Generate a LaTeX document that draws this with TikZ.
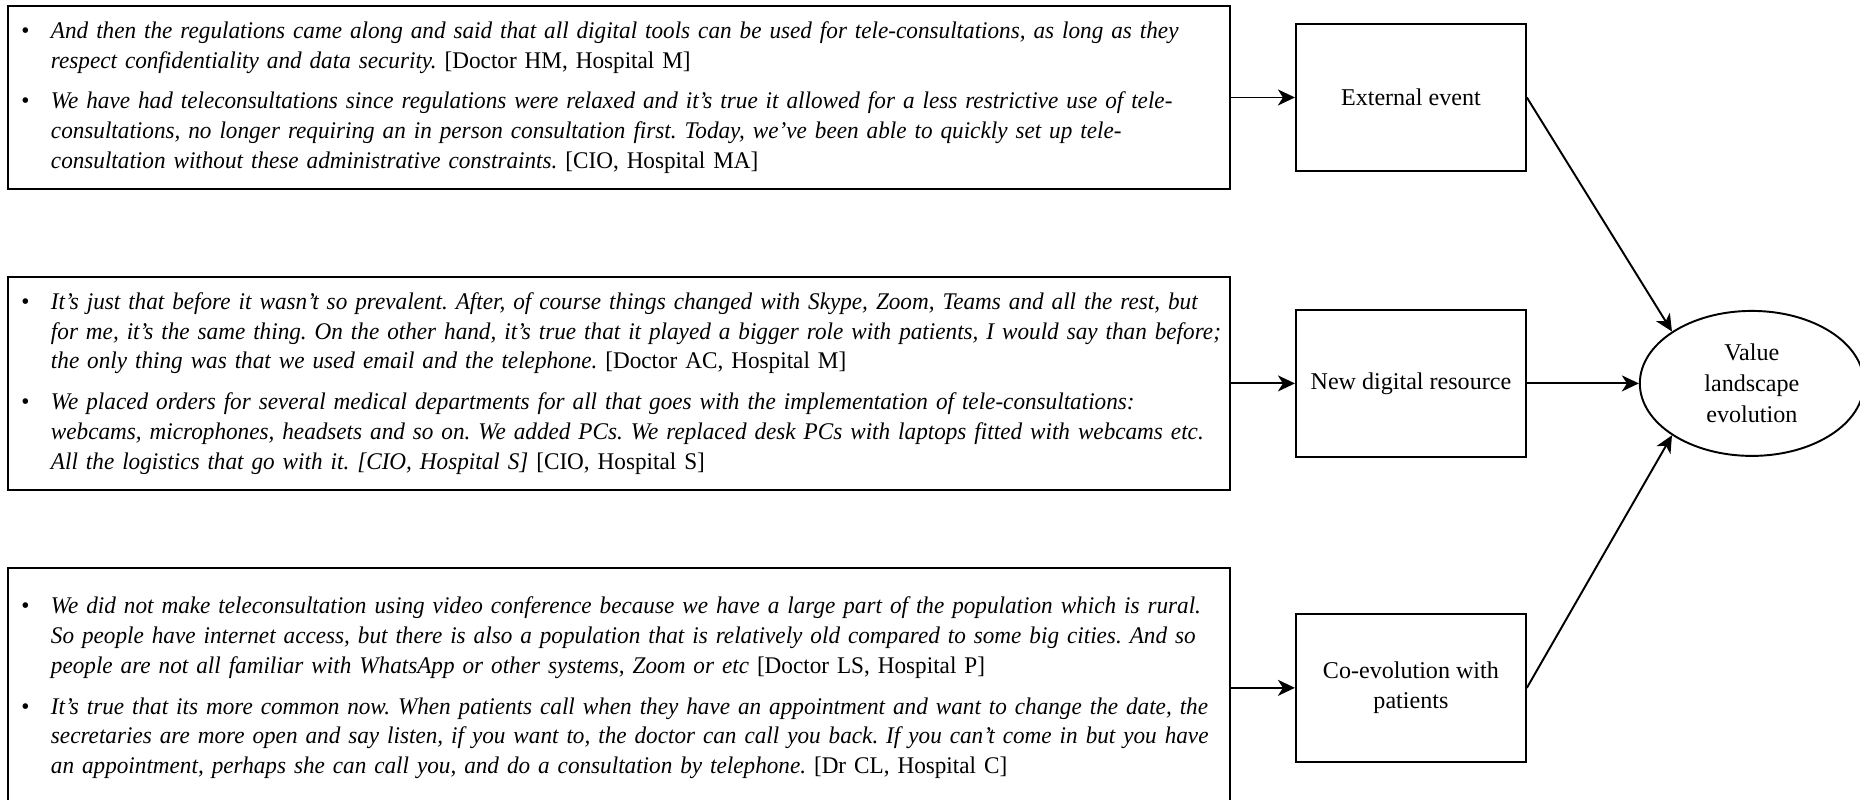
\documentclass[tikz,border=0pt]{standalone}
\usepackage{fontspec}
\setmainfont{Liberation Serif}
\newfontfamily\quotefont[FakeStretch=0.97,WordSpace=0.85]{Liberation Serif}
\usetikzlibrary{arrows.meta,positioning,shapes.geometric}
\frenchspacing

\newcommand{\qbul}{\leavevmode\llap{\textbullet\hspace{0.43cm}}}

\begin{document}
\begin{tikzpicture}[node distance=1.28cm,>={Stealth[length=0.34cm,width=0.32cm,inset=0.1cm]},line width=1.1pt,
  quotebox/.style={draw,text width=24.4cm,inner xsep=0.02cm,inner ysep=0pt,align=left,
    font=\quotefont\fontsize{13.6}{16.9}\selectfont,
    execute at begin node={\leftskip=0.84cm\rightskip=-1cm plus 1fil\relax}},
  factor/.style={draw,minimum width=4.6cm,minimum height=2.95cm,align=center,font=\fontsize{13.7}{16.8}\selectfont}]
\useasboundingbox (0,0) rectangle (37.2,-15.98);

% quotes
\node[quotebox,minimum height=3.66cm,anchor=north west] (qext) at (0.14,-0.1)
{\qbul\textit{And then the regulations came along and said that all digital tools can be used for tele-consultations, as long as they}\\
\textit{respect confidentiality and data security.} [Doctor HM, Hospital M]\\[0.22cm]
\qbul\textit{We have had teleconsultations since regulations were relaxed and it’s true it allowed for a less restrictive use of tele-}\\
\textit{consultations, no longer requiring an in person consultation first. Today, we’ve been able to quickly set up tele-}\\
\textit{consultation without these administrative constraints.} [CIO, Hospital MA]};
\node[quotebox,minimum height=4.26cm,below=1.72cm of qext] (qres)
{\qbul\textit{It’s just that before it wasn’t so prevalent. After, of course things changed with Skype, Zoom, Teams and all the rest, but}\\
\textit{for me, it’s the same thing. On the other hand, it’s true that it played a bigger role with patients, I would say than before;}\\
\textit{the only thing was that we used email and the telephone.} [Doctor AC, Hospital M]\\[0.22cm]
\qbul\textit{We placed orders for several medical departments for all that goes with the implementation of tele-consultations:}\\
\textit{webcams, microphones, headsets and so on. We added PCs. We replaced desk PCs with laptops fitted with webcams etc.}\\
\textit{All the logistics that go with it. [CIO, Hospital S]} [CIO, Hospital S]};
\node[quotebox,minimum height=4.8cm,below=1.52cm of qres] (qpat)
{\qbul\textit{We did not make teleconsultation using video conference because we have a large part of the population which is rural.}\\
\textit{So people have internet access, but there is also a population that is relatively old compared to some big cities. And so}\\
\textit{people are not all familiar with WhatsApp or other systems, Zoom or etc} [Doctor LS, Hospital P]\\[0.22cm]
\qbul\textit{It’s true that its more common now. When patients call when they have an appointment and want to change the date, the}\\
\textit{secretaries are more open and say listen, if you want to, the doctor can call you back. If you can’t come in but you have}\\
\textit{an appointment, perhaps she can call you, and do a consultation by telephone.} [Dr CL, Hospital C]};

% factors
\node[factor,right=of qext] (ext) {External event};
\node[factor,right=of qres] (res) {New digital resource};
\node[factor,right=of qpat] (pat) {Co-evolution with\\patients};
\node[draw,ellipse,minimum width=4.48cm,minimum height=2.9cm,inner sep=0pt,align=center,
  font=\fontsize{13.7}{17.5}\selectfont,right=2.24cm of res] (value) {Value\\landscape\\evolution};

\draw[->] (qext) -- (ext);
\draw[->] (qres) -- (res);
\draw[->] (qpat) -- (pat);
\draw[->] (ext.east) -- (value.north west);
\draw[->] (res) -- (value);
\draw[->] (pat.east) -- (value.south west);
\end{tikzpicture}
\end{document}
